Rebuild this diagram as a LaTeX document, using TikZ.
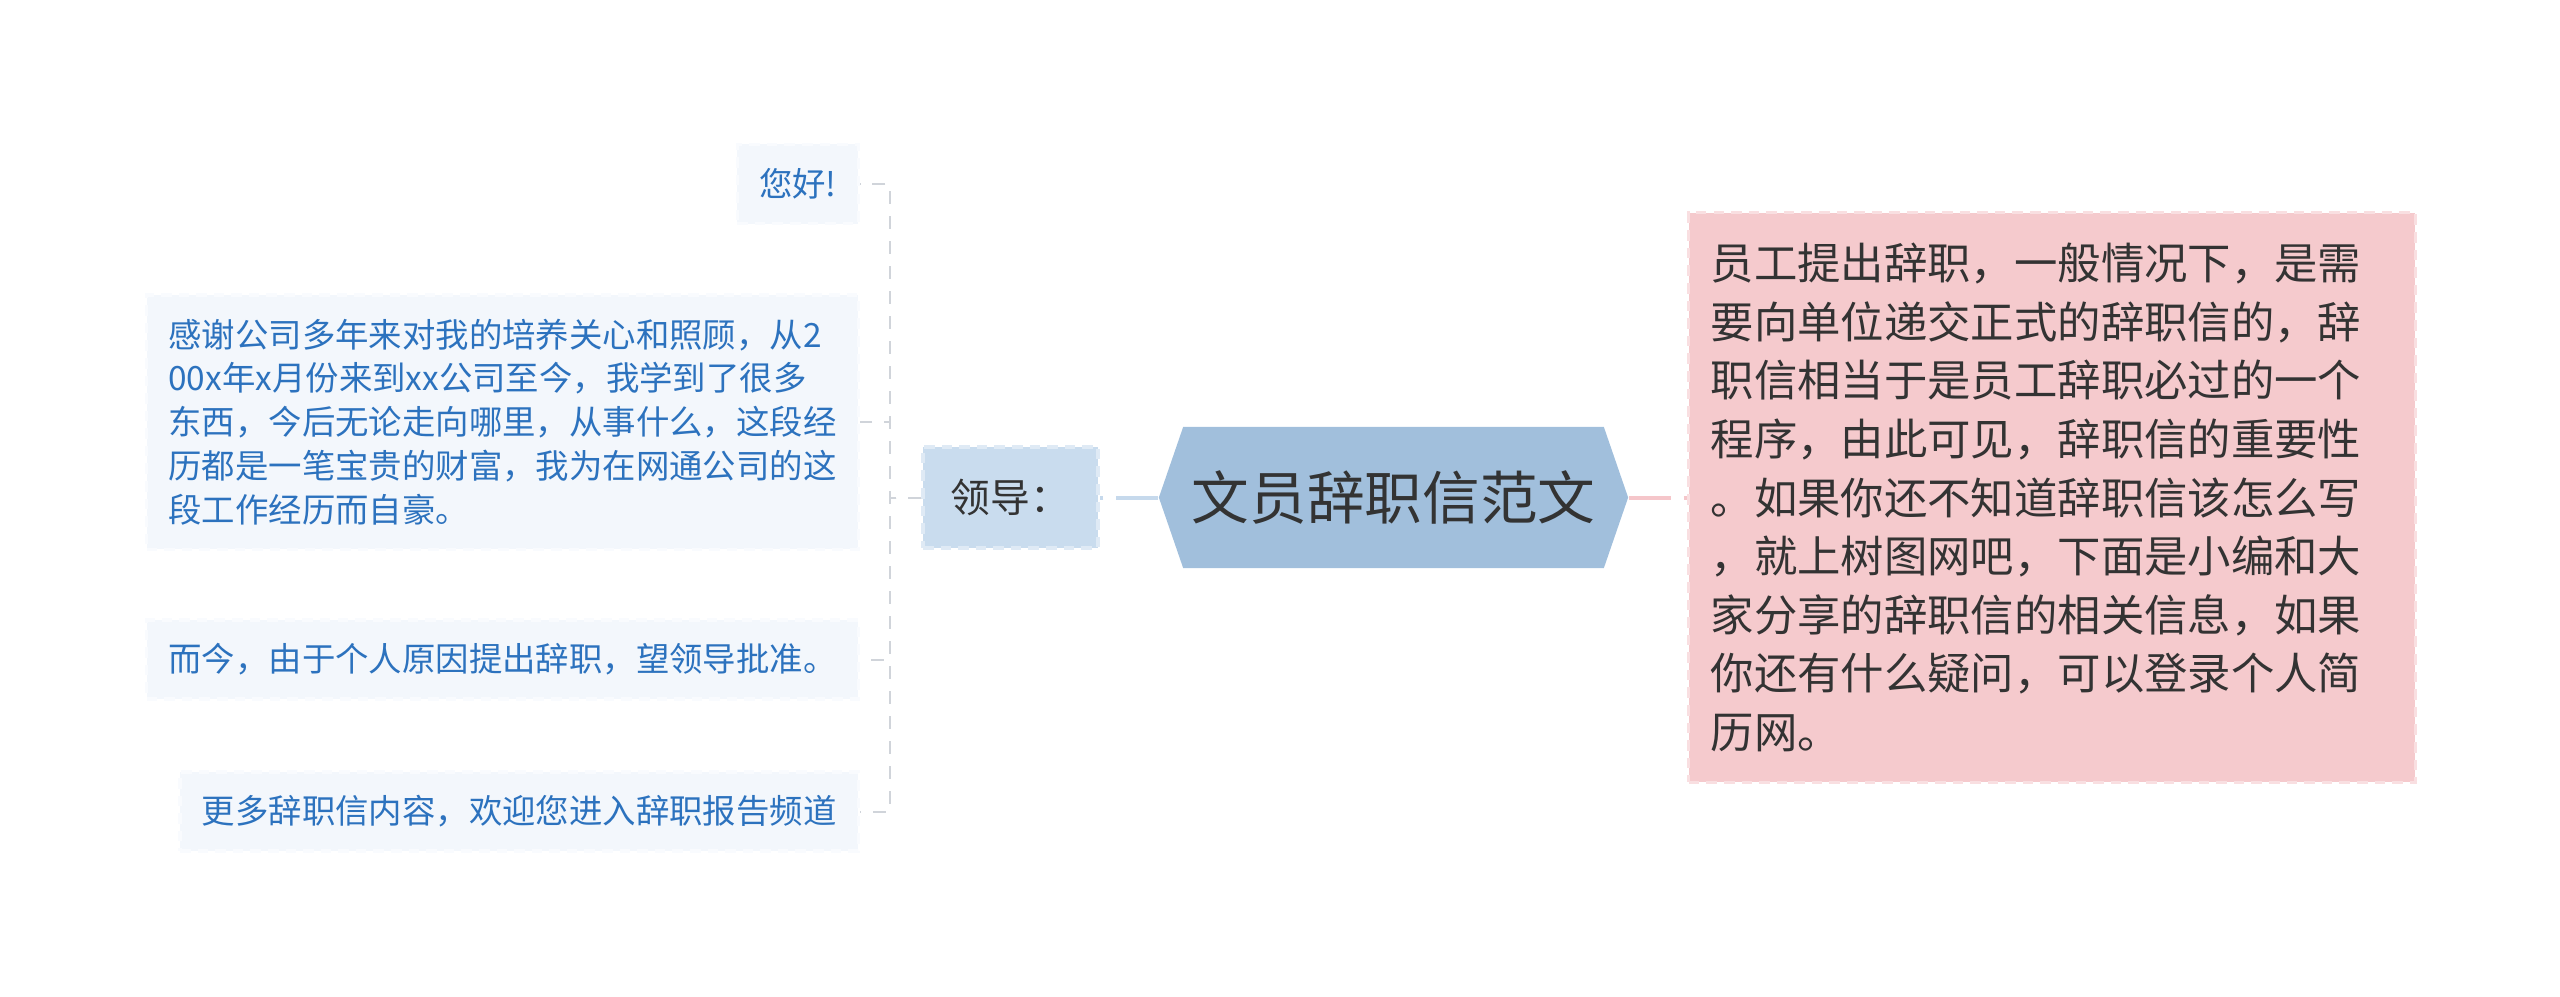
\documentclass[tikz,border=0pt]{standalone}
\usepackage{fontspec}
\setmainfont{Noto Sans CJK SC}
\usepackage{tikz}
\usetikzlibrary{shapes.symbols}
\definecolor{hex_blue}{RGB}{161,191,220}
\definecolor{lead_blue}{RGB}{201,220,238}
\definecolor{leaf_fill}{RGB}{243,247,252}
\definecolor{leaf_text}{RGB}{44,114,190}
\definecolor{note_pink}{RGB}{245,202,205}
\definecolor{link_pink}{RGB}{245,198,202}
\definecolor{link_blue}{RGB}{198,217,236}
\definecolor{link_gray}{RGB}{208,212,218}
\definecolor{dark_text}{RGB}{51,51,51}

\begin{document}
\begin{tikzpicture}[x=0.01cm,y=-0.01cm,
  root/.style={shape=signal, signal to=west and east, signal pointer angle=142,
    fill=hex_blue, minimum width=4.69cm, minimum height=1.41cm, inner sep=0pt,
    text=dark_text, font=\fontsize{16.4pt}{19pt}\selectfont},
  lead/.style={fill=lead_blue, draw=white!40!lead_blue, dash pattern=on 3pt off 2pt, line width=0.9pt,
    minimum width=1.75cm, minimum height=1.01cm,
    text=dark_text, font=\fontsize{11.3pt}{14pt}\selectfont},
  note/.style={fill=note_pink, draw=white!40!note_pink, dash pattern=on 3pt off 2pt, line width=0.9pt,
    minimum width=7.26cm, minimum height=5.69cm, text width=6.82cm, align=left,
    text=dark_text, font=\fontsize{12.33pt}{16.67pt}\selectfont},
  leaf/.style={anchor=east, fill=leaf_fill, draw=white!50!leaf_fill, dash pattern=on 3pt off 2pt, line width=0.9pt,
    inner xsep=6.2pt, minimum height=0.79cm, align=left,
    text=leaf_text, font=\fontsize{9.5pt}{12.47pt}\selectfont},
  rootlink/.style={line width=1.13pt, dash pattern=on 11.9pt off 3.7pt},
  branch/.style={draw=link_gray, line width=0.57pt, dash pattern=on 3.7pt off 3.4pt}]

\useasboundingbox (0,0) rectangle (2560,996);

% centre and first level
\node[root] (root) at (1393.5,497.5) {文员辞职信范文};
\node[lead] (lead) at (1010.5,497.5) {领导：};
\node[note] (note) at (2052,497.5) {员工提出辞职，一般情况下，是需\\要向单位递交正式的辞职信的，辞\\职信相当于是员工辞职必过的一个\\程序，由此可见，辞职信的重要性\\。如果你还不知道辞职信该怎么写\\，就上树图网吧，下面是小编和大\\家分享的辞职信的相关信息，如果\\你还有什么疑问，可以登录个人简\\历网。};

% leaves of the letter
\node[leaf] (hello) at (860,184) {您好!};
\node[leaf, minimum height=2.54cm] (thanks) at (860,422) {感谢公司多年来对我的培养关心和照顾，从2\\00x年x月份来到xx公司至今，我学到了很多\\东西，今后无论走向哪里，从事什么，这段经\\历都是一笔宝贵的财富，我为在网通公司的这\\段工作经历而自豪。};
\node[leaf] (reason) at (860,659.5) {而今，由于个人原因提出辞职，望领导批准。};
\node[leaf] (more) at (860,811.5) {更多辞职信内容，欢迎您进入辞职报告频道};

\draw[rootlink, link_blue] (root.west) -- (lead.east);
\draw[rootlink, link_pink] (root.east) -- (note.west);

\draw[branch] (lead.west) -- ++(-31,0) |- (hello.east);
\draw[branch] (lead.west) -- ++(-31,0) |- (thanks.east);
\draw[branch] (lead.west) -- ++(-31,0) |- (reason.east);
\draw[branch] (lead.west) -- ++(-31,0) |- (more.east);
\end{tikzpicture}
\end{document}
